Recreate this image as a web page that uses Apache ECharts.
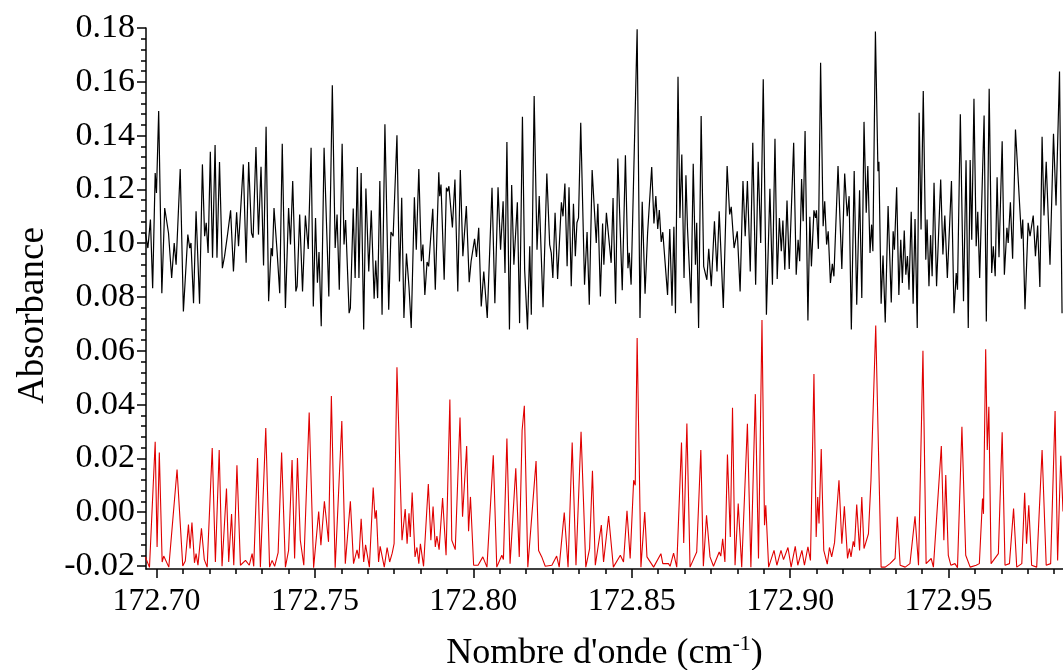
<!DOCTYPE html>
<html>
<head>
<meta charset="utf-8">
<script src="https://cdn.jsdelivr.net/npm/echarts@6/dist/echarts.min.js"></script>
<style>
html,body{margin:0;padding:0;background:#fff;}
#chart{width:1063px;height:670px;}
</style>
</head>
<body>
<div id="chart"></div>
<script>
// ---- data ----
const xMajorTicks = [172.70, 172.75, 172.80, 172.85, 172.90, 172.95];
const yTicks = [-0.02, 0.00, 0.02, 0.04, 0.06, 0.08, 0.10, 0.12, 0.14, 0.16, 0.18];

const blackX = [
172.6965,172.6973,172.6981,172.6988,172.6996,172.7000,172.7007,172.7017,172.7026,172.7038,172.7048,172.7056,172.7062,172.7075,172.7085,172.7099,172.7105,172.7109,172.7117,172.7125,
172.7136,172.7145,172.7152,172.7157,172.7163,172.7170,172.7177,172.7185,172.7191,172.7199,172.7208,172.7215,172.7225,172.7234,172.7243,172.7253,172.7259,172.7274,172.7283,172.7291,
172.7300,172.7305,172.7314,172.7322,172.7330,172.7338,172.7346,172.7354,172.7362,172.7366,172.7371,172.7381,172.7389,172.7397,172.7407,172.7417,172.7423,172.7430,172.7440,172.7444,
172.7452,172.7461,172.7470,172.7479,172.7488,172.7495,172.7502,172.7508,172.7513,172.7520,172.7529,172.7544,172.7555,172.7564,172.7570,172.7577,172.7586,172.7592,172.7597,172.7608,
172.7612,172.7621,172.7627,172.7634,172.7639,172.7646,172.7654,172.7661,172.7670,172.7678,172.7687,172.7692,172.7698,172.7705,172.7712,172.7721,172.7733,172.7740,172.7747,172.7759,
172.7767,172.7774,172.7781,172.7789,172.7797,172.7804,172.7814,172.7820,172.7828,172.7836,172.7841,172.7847,172.7854,172.7859,172.7872,172.7880,172.7891,
172.7894,172.7898,172.7908,172.7915,172.7919,172.7923,172.7934,172.7942,172.7951,172.7959,172.7967,172.7978,172.7987,172.7993,172.7997,172.8004,172.8010,172.8017,172.8025,172.8033,
172.8044,172.8059,172.8068,172.8078,172.8086,172.8094,172.8100,172.8106,172.8114,172.8121,172.8128,172.8139,172.8146,172.8155,172.8162,172.8166,172.8171,172.8178,172.8183,172.8192,
172.8201,172.8208,172.8220,172.8232,172.8241,172.8246,172.8251,172.8258,172.8266,172.8278,172.8283,172.8289,172.8296,172.8302,172.8309,172.8316,172.8322,172.8327,172.8332,172.8339,
172.8351,172.8359,172.8366,172.8375,172.8388,172.8393,172.8401,172.8408,172.8412,172.8420,172.8424,172.8428,172.8435,172.8441,172.8449,172.8456,172.8470,172.8480,172.8488,172.8492,
172.8498,172.8517,172.8526,172.8533,172.8542,172.8550,172.8555,172.8563,172.8570,172.8576,172.8582,172.8587,172.8593,172.8598,172.8613,172.8620,172.8627,172.8633,172.8638,172.8646,
172.8652,172.8658,172.8665,172.8671,172.8676,172.8680,172.8687,172.8694,172.8701,172.8705,172.8711,172.8719,172.8727,172.8732,172.8737,172.8743,172.8751,172.8761,172.8769,172.8776,
172.8789,172.8801,172.8809,172.8814,172.8823,172.8833,172.8842,
172.8851,172.8858,172.8865,172.8874,172.8882,172.8891,172.8899,172.8907,172.8915,172.8925,172.8936,172.8944,172.8952,172.8959,172.8966,172.8972,172.8977,172.8983,172.8990,172.8997,
172.9011,172.9019,172.9025,172.9030,172.9036,172.9041,172.9047,172.9056,172.9062,172.9067,172.9075,172.9080,172.9083,172.9089,172.9096,172.9104,172.9109,172.9115,172.9120,172.9127,
172.9133,172.9138,172.9151,172.9163,172.9172,172.9180,172.9186,172.9193,172.9202,172.9210,172.9219,172.9226,172.9233,172.9240,172.9245,172.9252,172.9257,172.9261,172.9269,172.9277,
172.9280,172.9287,172.9293,172.9300,172.9309,172.9319,172.9325,172.9329,172.9336,172.9343,172.9349,172.9354,172.9360,172.9365,172.9370,172.9375,172.9382,172.9388,172.9394,172.9401,
172.9407,172.9413,172.9420,172.9428,172.9432,172.9438,172.9443,172.9448,172.9454,172.9462,172.9467,172.9475,172.9482,172.9488,172.9496,172.9509,172.9517,172.9524,172.9528,172.9537,
172.9547,172.9555,172.9562,172.9568,172.9573,172.9580,172.9587,172.9592,172.9598,172.9612,172.9619,172.9628,172.9636,172.9641,172.9647,172.9653,172.9659,172.9669,172.9676,172.9684,
172.9688,172.9695,172.9702,172.9711,172.9730,172.9734,172.9741,172.9751,172.9757,172.9767,172.9774,172.9781,172.9788,172.9795,172.9801,172.9808,172.9820,172.9831,172.9839,172.9850,
172.9858
];
const blackY = [
0.1038,0.0982,0.1088,0.0833,0.1261,0.1187,0.1491,0.0814,0.1131,0.1038,0.0871,0.1001,0.0920,0.1276,0.0746,0.1032,0.0982,0.1001,0.0777,0.1119,
0.0775,0.1293,0.1026,0.1076,0.0964,0.1340,0.0946,0.1365,0.0946,0.1302,0.0907,0.0952,0.1038,0.1122,0.0895,0.1115,0.0989,0.1293,0.0927,0.1302,
0.1038,0.1020,0.1358,0.1032,0.1284,0.0917,0.1433,0.0784,0.0982,0.0952,0.1131,0.0964,0.0814,0.1370,0.0759,0.1131,0.0995,0.1231,0.0821,0.0840,
0.1107,0.0821,0.1103,0.0979,0.1355,0.0765,0.1094,0.0853,0.0967,0.0691,0.1355,0.0802,0.1587,0.0982,0.1107,0.0827,0.1370,0.0995,0.1086,0.0740,
0.0759,0.1129,0.0871,0.1283,0.0871,0.1261,0.0679,0.1203,0.0895,0.1122,0.0794,0.0936,0.0796,0.1231,0.0734,0.1442,0.0753,0.1042,0.1026,0.1401,
0.0858,0.1169,0.0722,0.0962,0.0837,0.0685,0.1171,0.0976,0.1276,0.0933,0.0995,0.0808,0.0930,0.0914,0.1128,0.0827,0.1264,
0.1175,0.1218,0.0864,0.1206,0.1193,0.1212,0.1059,0.1237,0.0821,0.1272,0.0952,0.1138,0.0855,0.0933,0.0939,0.1016,0.0949,0.1057,0.0765,0.0895,
0.0722,0.1206,0.0777,0.1208,0.0976,0.1156,0.0889,0.1376,0.0679,0.1216,0.0920,0.1152,0.0703,0.1470,0.0901,0.0895,0.0679,0.0989,0.0734,0.1547,
0.0976,0.1175,0.0762,0.1259,0.0995,0.0964,0.0871,0.1113,0.0867,0.1152,0.1100,0.1222,0.0914,0.1208,0.0840,0.1147,0.0952,0.1076,0.1094,0.1448,
0.0846,0.1042,0.0771,0.1272,0.1001,0.1147,0.0802,0.1073,0.0920,0.1113,0.1063,0.1066,0.0927,0.1168,0.0775,0.1315,0.0825,0.1327,0.0907,0.0964,
0.0846,0.1795,0.0722,0.1154,0.0812,0.1038,0.1032,0.1283,0.1073,0.1175,0.1053,0.1123,0.1005,0.1041,0.0808,0.1053,0.0768,0.1061,0.0740,0.1619,
0.1094,0.1330,0.0871,0.1253,0.1053,0.1051,0.0777,0.1295,0.0920,0.1076,0.0685,0.1473,0.0914,0.0907,0.0864,0.0979,0.0840,0.1082,0.0895,0.1119,
0.0759,0.1287,0.1107,0.1135,0.0982,0.1044,0.0821,
0.1231,0.1026,0.1231,0.0895,0.1373,0.0846,0.1303,0.1001,0.1609,0.0734,0.1202,0.0846,0.1388,0.0867,0.1094,0.0970,0.1084,0.0901,0.1159,0.0904,
0.1373,0.0883,0.1013,0.0933,0.1239,0.1082,0.1417,0.0713,0.1098,0.0914,0.1122,0.1094,0.1122,0.0979,0.1671,0.1063,0.1156,0.0995,0.1044,0.0852,
0.0923,0.0877,0.1287,0.0904,0.1259,0.1100,0.1175,0.0679,0.1268,0.0771,0.1197,0.0796,0.1451,0.1113,0.1287,0.0964,0.1069,0.0970,0.1787,0.1268,
0.1303,0.0775,0.0954,0.0705,0.1138,0.0780,0.1044,0.0976,0.1208,0.0808,0.1013,0.0852,0.1047,0.0883,0.0952,0.0827,0.1117,0.0775,0.1090,0.0685,
0.1485,0.1051,0.1566,0.0939,0.1088,0.0840,0.1030,0.0877,0.1225,0.0840,0.0992,0.1237,0.0958,0.1103,0.0871,0.1231,0.0740,0.0889,0.0827,0.1479,
0.0784,0.1308,0.0685,0.1309,0.1013,0.1537,0.0989,0.1117,0.0871,0.1475,0.0709,0.1574,0.0889,0.0989,0.0877,0.1245,0.0948,0.1379,0.0883,0.1057,
0.1001,0.1152,0.0942,0.1423,0.1017,0.1088,0.0755,0.1076,0.1026,0.1103,0.0952,0.1066,0.0837,0.1396,0.1103,0.1303,0.0920,0.1407,0.1140,0.1638,
0.0740
];

const redX = [
172.6965,172.6978,172.6996,172.7002,172.7009,172.7018,172.7023,172.7039,172.7065,172.7083,172.7091,172.7101,172.7106,172.7112,172.7120,172.7125,172.7131,172.7142,172.7151,172.7160,
172.7176,172.7186,172.7198,172.7207,172.7221,172.7228,172.7237,172.7244,172.7254,172.7265,172.7281,172.7293,172.7302,172.7307,172.7319,172.7328,172.7345,172.7357,172.7365,172.7373,
172.7384,172.7395,172.7407,172.7417,172.7428,172.7436,172.7445,172.7454,172.7465,172.7482,172.7496,172.7512,172.7519,172.7530,172.7535,172.7543,172.7552,172.7564,172.7585,172.7596,
172.7612,172.7622,172.7633,172.7639,172.7646,172.7654,172.7660,172.7672,172.7684,172.7690,172.7694,172.7701,172.7706,172.7719,172.7728,172.7736,172.7744,172.7750,172.7759,172.7775,
172.7785,172.7791,172.7797,172.7801,172.7807,172.7816,172.7822,172.7828,172.7833,172.7843,172.7858,172.7866,172.7873,172.7880,172.7885,172.7892,172.7903,172.7914,172.7926,172.7932,
172.7943,172.7958,172.7966,172.7979,172.7985,172.7991,172.8001,172.8015,172.8030,172.8043,172.8063,172.8074,172.8090,172.8095,172.8106,172.8116,172.8134,172.8145,172.8154,172.8161,
172.8172,172.8198,172.8206,172.8212,172.8216,172.8221,172.8227,172.8248,172.8263,172.8271,172.8287,172.8299,172.8312,172.8324,172.8340,172.8355,172.8367,172.8376,172.8385,172.8404,
172.8411,172.8427,172.8442,172.8464,172.8474,172.8485,172.8495,172.8506,172.8511,172.8517,172.8529,172.8541,172.8548,172.8553,172.8569,172.8592,172.8598,172.8616,172.8621,172.8632,
172.8642,172.8657,172.8664,172.8674,172.8684,172.8705,172.8718,172.8726,172.8736,172.8747,172.8758,172.8776,172.8781,172.8787,172.8794,172.8802,172.8811,172.8818,172.8826,172.8836,
172.8847,172.8865,172.8876,172.8890,172.8900,172.8911,172.8919,172.8923,172.8932,172.8949,172.8958,172.8971,172.8979,172.8993,172.9003,172.9016,172.9024,172.9037,172.9045,172.9056,
172.9064,172.9075,172.9082,172.9087,172.9091,172.9098,172.9106,172.9110,172.9117,172.9124,172.9131,172.9140,172.9145,172.9154,172.9163,172.9171,172.9181,172.9187,172.9192,172.9199,
172.9203,172.9210,172.9219,172.9226,172.9233,172.9247,172.9255,172.9260,172.9270,172.9277,172.9287,172.9300,172.9315,172.9331,172.9338,172.9347,172.9363,172.9378,172.9394,172.9405,
172.9419,172.9429,172.9445,172.9452,172.9477,172.9485,172.9491,172.9499,172.9507,172.9520,172.9528,172.9542,172.9554,172.9568,172.9587,172.9597,172.9607,172.9610,172.9617,172.9622,
172.9627,172.9634,172.9657,172.9669,172.9678,172.9692,172.9705,172.9715,172.9731,172.9740,172.9746,172.9753,172.9762,172.9778,172.9795,172.9808,172.9822,172.9836,172.9844,172.9854,
172.9861
];
const redY = [
-0.0166,-0.0205,0.0262,-0.0129,0.0222,-0.0185,-0.0163,-0.0204,0.0159,-0.0200,-0.0181,-0.0046,-0.0135,-0.0038,-0.0188,-0.0154,-0.0197,-0.0060,-0.0176,-0.0204,
0.0239,-0.0185,0.0231,-0.0201,0.0088,-0.0185,-0.0007,-0.0197,0.0175,-0.0197,-0.0179,-0.0197,-0.0154,-0.0201,0.0202,-0.0204,0.0313,-0.0204,-0.0179,-0.0201,
-0.0150,0.0222,-0.0204,-0.0142,0.0194,-0.0172,0.0202,-0.0104,-0.0197,0.0371,-0.0206,0.0003,-0.0123,0.0041,-0.0015,-0.0110,0.0432,-0.0206,0.0339,-0.0191,
0.0041,-0.0191,-0.0140,-0.0172,-0.0024,-0.0185,-0.0121,-0.0204,0.0092,-0.0024,0.0007,-0.0185,-0.0127,-0.0204,-0.0131,-0.0185,-0.0152,-0.0117,0.0539,-0.0104,
0.0012,-0.0117,-0.0004,-0.0092,0.0073,-0.0166,-0.0131,-0.0191,-0.0117,-0.0201,0.0105,-0.0104,0.0021,-0.0129,-0.0089,-0.0139,0.0053,-0.0160,0.0419,-0.0104,
-0.0139,0.0352,-0.0017,0.0246,-0.0071,0.0057,-0.0197,-0.0197,-0.0166,-0.0204,0.0212,-0.0204,-0.0160,-0.0176,0.0274,-0.0191,0.0163,-0.0166,0.0305,0.0396,
-0.0204,0.0190,-0.0142,-0.0144,-0.0166,-0.0160,-0.0201,-0.0197,-0.0163,-0.0204,-0.0001,-0.0204,0.0259,-0.0197,0.0299,-0.0204,-0.0135,0.0154,-0.0197,-0.0048,
-0.0185,-0.0014,-0.0204,-0.0160,-0.0185,0.0005,-0.0172,0.0119,0.0100,0.0648,-0.0204,0.0001,-0.0166,-0.0160,-0.0204,-0.0154,-0.0191,-0.0191,-0.0201,-0.0152,
-0.0204,0.0259,-0.0114,0.0330,-0.0204,-0.0148,0.0231,-0.0201,-0.0011,-0.0166,-0.0201,-0.0148,-0.0163,-0.0099,-0.0185,0.0215,-0.0092,0.0388,-0.0197,0.0032,
-0.0204,0.0329,-0.0204,0.0439,-0.0172,0.0715,-0.0048,0.0026,-0.0204,-0.0142,-0.0197,-0.0142,-0.0176,-0.0131,-0.0204,-0.0127,-0.0197,-0.0142,-0.0197,-0.0129,
-0.0179,0.0514,-0.0092,0.0057,-0.0042,0.0235,-0.0142,-0.0135,-0.0193,-0.0131,-0.0166,-0.0113,-0.0117,0.0119,-0.0117,0.0022,-0.0172,-0.0135,-0.0166,-0.0108,
-0.0129,0.0029,-0.0142,0.0057,-0.0135,-0.0080,0.0119,0.0125,0.0694,0.0317,-0.0204,-0.0204,-0.0191,-0.0172,-0.0017,-0.0197,-0.0204,-0.0191,-0.0015,-0.0197,
0.0600,-0.0191,-0.0172,-0.0204,0.0246,-0.0104,0.0138,-0.0160,-0.0197,-0.0191,-0.0206,0.0318,-0.0160,-0.0204,-0.0197,-0.0191,0.0051,-0.0006,0.0606,0.0231,
0.0392,-0.0191,-0.0154,0.0297,-0.0197,-0.0191,0.0014,-0.0204,-0.0191,0.0072,-0.0117,0.0026,-0.0197,-0.0204,0.0231,-0.0197,-0.0191,0.0376,-0.0179,0.0210,
0.0003
];

// ---- chart ----
const X_MIN = 172.6967, X_MAX = 172.9861;
const Y_MIN = -0.0211, Y_MAX = 0.18;
const xMinorTicks = [];
for (let v = xMajorTicks[0]; v <= X_MAX + 1e-9; v += 0.05 / 6) xMinorTicks.push(+v.toFixed(5));
const yMinorTicks = [];
for (let v = yTicks[0]; v <= Y_MAX + 1e-9; v += 0.004) yMinorTicks.push(+v.toFixed(4));

const zip = (xs, ys) => xs.map((x, i) => [x, ys[i]]);
const FONT = 'Liberation Serif';
const GRID = {left: 146, right: 0, top: 28, bottom: 101, containLabel: false, outerBoundsMode: 'none'};
const TICK = {color: '#000', width: 1.5};

const chart = echarts.init(document.getElementById('chart'), null, {renderer: 'canvas'});
chart.setOption({
  animation: false,
  backgroundColor: '#fff',
  grid: [Object.assign({}, GRID), Object.assign({}, GRID)],
  xAxis: [{
    type: 'value', gridIndex: 0, min: X_MIN, max: X_MAX, position: 'bottom',
    axisLine: {show: true, onZero: false, lineStyle: TICK},
    axisTick: {show: true, customValues: xMajorTicks, length: 9, lineStyle: TICK},
    axisLabel: {show: true, customValues: xMajorTicks, formatter: v => v.toFixed(2), color: '#000',
      fontFamily: FONT, fontSize: 32, margin: 17},
    splitLine: {show: false},
    name: "Nombre d'onde (cm{sup|-1})",
    nameLocation: 'middle', nameGap: 64,
    nameTextStyle: {color: '#000', fontFamily: FONT, fontSize: 36,
      rich: {sup: {fontFamily: FONT, fontSize: 22, color: '#000', padding: [0, 0, 20, 0]}}}
  }, {
    type: 'value', gridIndex: 1, min: X_MIN, max: X_MAX, position: 'bottom',
    axisLine: {show: false, onZero: false},
    axisTick: {show: true, customValues: xMinorTicks, length: 5, lineStyle: TICK},
    axisLabel: {show: false},
    splitLine: {show: false}
  }],
  yAxis: [{
    type: 'value', gridIndex: 0, min: Y_MIN, max: Y_MAX, position: 'left',
    axisLine: {show: true, onZero: false, lineStyle: TICK},
    axisTick: {show: true, customValues: yTicks, length: 9, lineStyle: TICK},
    axisLabel: {customValues: yTicks, formatter: v => v.toFixed(2), color: '#000', fontFamily: FONT, fontSize: 34, margin: 11},
    splitLine: {show: false},
    name: 'Absorbance', nameLocation: 'middle', nameGap: 94,
    nameTextStyle: {color: '#000', fontFamily: FONT, fontSize: 37, padding: [0, 34, 0, 0]}
  }, {
    type: 'value', gridIndex: 1, min: Y_MIN, max: Y_MAX, position: 'left',
    axisLine: {show: false, onZero: false},
    axisTick: {show: true, customValues: yMinorTicks, length: 5, lineStyle: TICK},
    axisLabel: {show: false},
    splitLine: {show: false}
  }],
  series: [{
    type: 'line', xAxisIndex: 0, yAxisIndex: 0, data: zip(blackX, blackY), showSymbol: false,
    lineStyle: {color: '#000', width: 1.2}, clip: true
  }, {
    type: 'line', xAxisIndex: 0, yAxisIndex: 0, data: zip(redX, redY), showSymbol: false,
    lineStyle: {color: '#e00000', width: 1.1}, clip: true
  }]
});
</script>
</body>
</html>
